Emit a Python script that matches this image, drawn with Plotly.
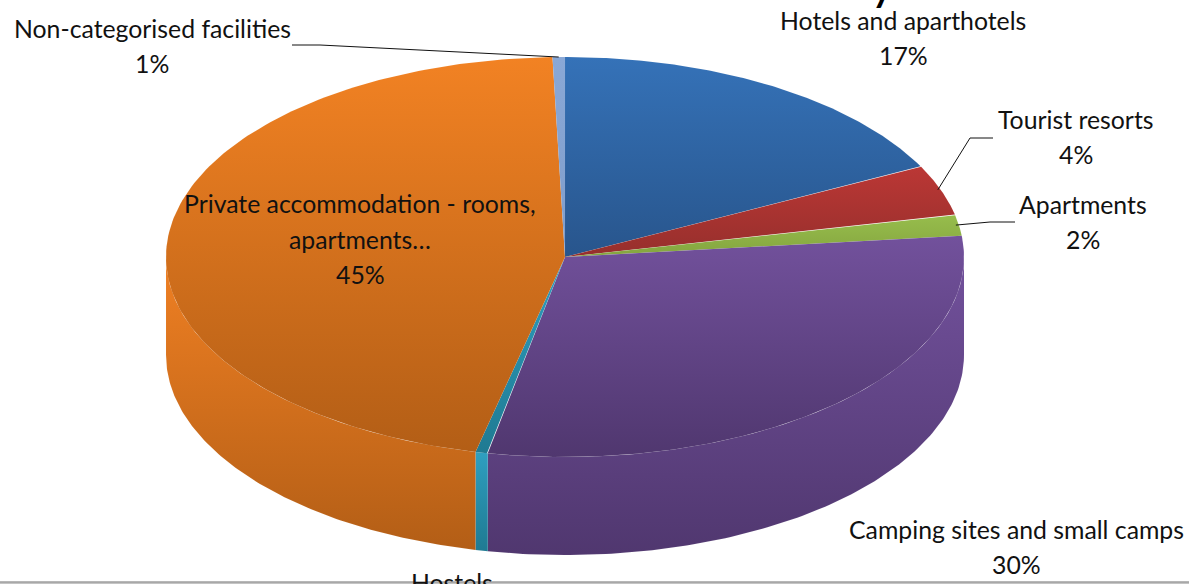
import numpy as np
import plotly.graph_objects as go

categories = ["Hotels and aparthotels", "Tourist resorts", "Apartments",
              "Camping sites and small camps", "Hostels",
              "Private accommodation - rooms, apartments…", "Non-categorised facilities"]
shares = [17.5, 4.1, 1.7, 29.8, 0.5, 45.9, 0.5]
percent_labels = ["17%", "4%", "2%", "30%", "1%", "45%", "1%"]
top_colors = [("#3572b8", "#28558c"), ("#bb3735", "#962f2c"), ("#97bd4c", "#84a53f"),
              ("#72519c", "#50376f"), ("#2f9fc0", "#1f7a92"), ("#f28223", "#b35e16"),
              ("#8aa8d6", "#7f9dcb")]
wall_colors = [None, None, None, ("#72519c", "#50376f"), ("#2f9fc0", "#1f7a92"),
               ("#f08023", "#b35e16"), None]

CX, CY, RX, RY, DEPTH = 565, 257, 399, 200, 98
W, H = 1189, 584


def px(theta):
    return CX + RX * np.sin(theta)


def py(theta):
    return CY - RY * np.cos(theta)


def grad(c):
    # the y axis runs downward, so the gradient's low end is the picture's bottom
    return dict(type="vertical", colorscale=[[0, c[1]], [1, c[0]]])


fig = go.Figure()
edges = np.concatenate([[0], np.cumsum(shares)]) / sum(shares) * 2 * np.pi

# outer walls: only the front half of the rim is visible
for i in range(len(shares)):
    a, b = max(edges[i], np.pi / 2), min(edges[i + 1], 1.5 * np.pi)
    if wall_colors[i] is None or b <= a:
        continue
    t = np.linspace(a, b, 120)
    xs = np.concatenate([px(t), px(t[::-1])])
    ys = np.concatenate([py(t), py(t[::-1]) + DEPTH])
    fig.add_trace(go.Scatter(x=xs, y=ys, mode="lines", fill="toself",
                             fillgradient=grad(wall_colors[i]),
                             line=dict(width=0.6, color="rgba(255,255,255,0.08)"),
                             hoverinfo="skip", showlegend=False))

# top faces
for i in range(len(shares)):
    t = np.linspace(edges[i], edges[i + 1], 160)
    xs = np.concatenate([[CX], px(t), [CX]])
    ys = np.concatenate([[CY], py(t), [CY]])
    fig.add_trace(go.Scatter(x=xs, y=ys, mode="lines", fill="toself",
                             fillgradient=grad(top_colors[i]),
                             line=dict(width=0.6, color="rgba(255,255,255,0.05)"),
                             hoverinfo="skip", name=categories[i], showlegend=False))

# leader lines (label end, elbow, slice mid-point on the rim)
leaders = {1: (993, 138, 970, 138), 2: (1015, 222, 990, 222), 6: (292, 45, 320, 45)}
for i, (x0, y0, x1, y1) in leaders.items():
    m = (edges[i] + edges[i + 1]) / 2
    fig.add_trace(go.Scatter(x=[x0, x1, px(m) - (3 if i != 6 else 0)],
                             y=[y0, y1, py(m)],
                             mode="lines", line=dict(color="#111111", width=1),
                             hoverinfo="skip", showlegend=False))

FONT = dict(family="Lato", size=24.8, color="#111111")
label_pos = {
    0: (903, [20, 55], ["Hotels and aparthotels"]),
    1: (1076, [119, 154], ["Tourist resorts"]),
    2: (1083, [204, 239], ["Apartments"]),
    3: (1016, [529, 564], ["Camping sites and small camps"]),
    4: (452, [582], ["Hostels"]),
    5: (360, [203, 239, 274], ["Private accommodation - rooms,", "apartments…"]),
    6: (152, [28, 63], ["Non-categorised facilities"]),
}
for i, (x, ys, lines) in label_pos.items():
    texts = lines + [percent_labels[i]] if i != 4 else lines
    for y, s in zip(ys, texts):
        fig.add_annotation(x=x, y=y, text=s, showarrow=False, font=FONT,
                           xanchor="center", yanchor="middle", align="center")

# bottom rule, drawn over the cropped Hostels label
fig.add_shape(type="rect", x0=0, x1=W, y0=581.5, y1=584, line=dict(width=0),
              fillcolor="#c4c4c4", layer="above")
fig.add_shape(type="line", x0=0, x1=W, y0=582, y1=582,
              line=dict(color="#8c8c8c", width=1), layer="above")

# cropped chart title: only a descender shows at the top edge
fig.add_annotation(xref="x", yref="paper", x=882, y=1 + 12 / H, text="<b>y</b>", showarrow=False,
                   font=dict(family="Lato", size=37, color="#000000"),
                   xanchor="center", yanchor="middle")

fig.update_layout(
    width=W, height=H, margin=dict(l=0, r=0, t=0, b=0),
    paper_bgcolor="white", plot_bgcolor="white",
    xaxis=dict(range=[0, W], visible=False, fixedrange=True),
    yaxis=dict(range=[H, 0], visible=False, fixedrange=True),
    showlegend=False,
)
fig.write_html("out.html", config=dict(displayModeBar=False),
               post_script="document.body.style.margin='0';document.documentElement.style.overflow='hidden';")
